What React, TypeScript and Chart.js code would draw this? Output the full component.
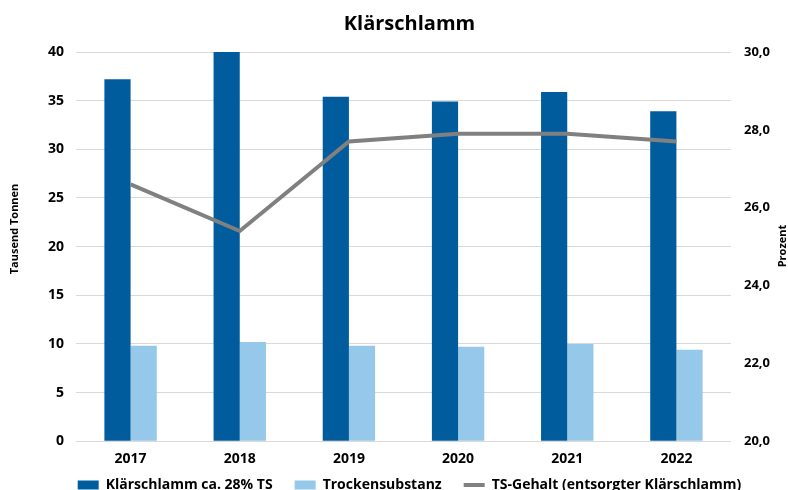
import React, { useEffect, useRef } from "react";
import { Chart, registerables } from "chart.js";

Chart.register(...registerables);

const years = ["2017", "2018", "2019", "2020", "2021", "2022"];
const klaerschlamm = [37.2, 40.1, 35.4, 34.9, 35.9, 33.9];
const trockensubstanz = [9.8, 10.2, 9.8, 9.7, 10.0, 9.4];
const tsGehalt = [26.6, 25.4, 27.7, 27.9, 27.9, 27.7];
const leftTitle = "Tausend Tonnen";
const rightTitle = "Prozent";

const FONT = "'Open Sans', 'Noto Sans', sans-serif";

const legendTweak = {
  id: "legendTweak",
  beforeInit(chart: any) {
    const legend = chart.legend;
    if (!legend) return;
    const origFit = legend.fit;
    legend.fit = function () {
      origFit.call(this);
      this.height = 14;
    };
    const origDraw = legend.draw;
    legend.draw = function () {
      const t = this.top;
      this.top = t - 20;
      origDraw.call(this);
      this.top = t;
    };
  },
};

const axisTitles = {
  id: "axisTitles",
  afterDraw(chart: any) {
    const ctx = chart.ctx;
    ctx.save();
    ctx.fillStyle = "#000";
    ctx.font = `bold 11px ${FONT}`;
    ctx.textAlign = "center";
    ctx.textBaseline = "middle";
    ctx.translate(15, 229);
    ctx.rotate(-Math.PI / 2);
    ctx.fillText(leftTitle, 0, 0);
    ctx.restore();
    ctx.save();
    ctx.fillStyle = "#000";
    ctx.font = `bold 11px ${FONT}`;
    ctx.textAlign = "center";
    ctx.textBaseline = "middle";
    ctx.translate(783, 246);
    ctx.rotate(-Math.PI / 2);
    ctx.fillText(rightTitle, 0, 0);
    ctx.restore();
  },
};

export default function App() {
  const ref = useRef<HTMLCanvasElement>(null);
  useEffect(() => {
    document.body.style.margin = "0";
    const chart = new Chart(ref.current!, {
      type: "bar",
      plugins: [legendTweak, axisTitles],
      data: {
        labels: years,
        datasets: [
          {
            type: "line",
            label: "TS-Gehalt (entsorgter Klärschlamm)",
            data: tsGehalt,
            yAxisID: "y1",
            borderColor: "#808080",
            backgroundColor: "#808080",
            borderWidth: 4,
            pointRadius: 0,
            pointStyle: "line",
            order: 0,
          } as any,
          {
            label: "Klärschlamm ca. 28% TS",
            data: klaerschlamm,
            backgroundColor: "#005c9c",
            yAxisID: "y",
            pointStyle: "rect",
            order: 1,
          } as any,
          {
            label: "Trockensubstanz",
            data: trockensubstanz,
            backgroundColor: "#96c8e9",
            yAxisID: "y",
            pointStyle: "rect",
            order: 2,
          } as any,
        ],
      },
      options: {
        animation: false,
        responsive: false,
        maintainAspectRatio: false,
        datasets: { bar: { categoryPercentage: 0.48, barPercentage: 1 } },
        layout: { padding: { left: 36, right: 5, top: 6, bottom: 0 } },
        plugins: {
          title: {
            display: true,
            text: "Klärschlamm",
            color: "#000",
            font: { family: FONT, size: 20, weight: "bold" },
            padding: { top: 6, bottom: 16 },
          },
          legend: {
            position: "bottom",
            labels: {
              sort: (a: any, b: any) => {
                const rank = (i: number) => (i === 0 ? 9 : i);
                return rank(a.datasetIndex) - rank(b.datasetIndex);
              },
              usePointStyle: true,
              pointStyleWidth: 21,
              boxHeight: 9,
              color: "#000",
              padding: 22,
              font: { family: FONT, size: 14, weight: "bold" },
            },
          },
          tooltip: { enabled: false },
        },
        scales: {
          x: {
            grid: { display: false, drawTicks: false },
            border: { display: false },
            ticks: { color: "#000", font: { family: FONT, size: 14, weight: "bold" }, padding: 9 },
          },
          y: {
            position: "left",
            min: 0,
            max: 40,
            ticks: { stepSize: 5, color: "#000", font: { family: FONT, size: 14, weight: "bold" }, padding: 12 },
            grid: { color: "#d9d9d9", drawTicks: false, lineWidth: 1 },
            border: { display: false },
          },
          y1: {
            position: "right",
            min: 20,
            max: 30,
            ticks: {
              stepSize: 2,
              color: "#000",
              font: { family: FONT, size: 13, weight: "bold" },
              padding: 13,
              callback: (v: any) => Number(v).toFixed(1).replace(".", ","),
            },
            grid: { drawOnChartArea: false, drawTicks: false },
            border: { display: false },
          },
        },
      },
    });
    return () => chart.destroy();
  }, []);
  return (
    <div style={{ width: 788, height: 490, background: "#fff" }}>
      <canvas ref={ref} width={788} height={490} />
    </div>
  );
}
